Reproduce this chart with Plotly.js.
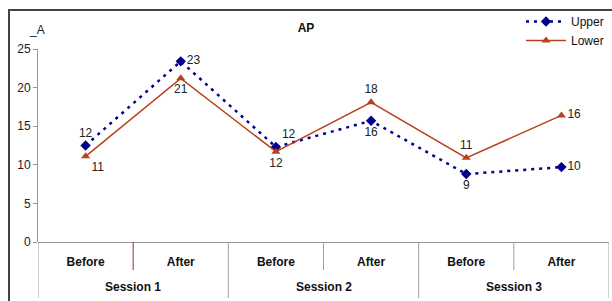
<!DOCTYPE html>
<html><head><meta charset="utf-8">
<script src="https://cdn.plot.ly/plotly-3.0.1.min.js"></script>
<style>html,body{margin:0;padding:0;background:#fff}</style>
</head><body><div id="chart" style="width:612px;height:301px"></div>
<script>
const sessions = ["Session 1","Session 1","Session 2","Session 2","Session 3","Session 3"];
const phases = ["Before","After","Before","After","Before","After"];
const upper = [12.5, 23.4, 12.3, 15.7, 8.8, 9.7];
const lower = [11.1, 21.2, 11.7, 18.1, 10.9, 16.4];
const upperLabels = ["12","23","12","16","9","10"];
const lowerLabels = ["11","21","12","18","11","16"];
const upperPos = ["top center","middle right","top right","bottom center","bottom center","middle right"];
const lowerPos = ["bottom right","bottom center","bottom center","top center","top center","middle right"];

const idx = phases.map((_, i) => i);
const labelFont = {family:"Liberation Sans, Arial", size:12, color:"#222"};
const traces = [
  {x:idx, y:upper, name:"Upper", type:"scatter", mode:"lines+markers+text",
   text:upperLabels, textposition:upperPos, textfont:labelFont,
   line:{color:"#00008B", width:2.5, dash:"3px,5px"},
   marker:{symbol:"diamond", size:8, color:"#00008B"}, cliponaxis:false},
  {x:idx, y:lower, name:"Lower", type:"scatter", mode:"lines+markers+text",
   text:lowerLabels, textposition:lowerPos, textfont:labelFont,
   line:{color:"#B8401C", width:1.5},
   marker:{symbol:"triangle-up", size:8, color:"#B8401C"}, cliponaxis:false}
];
const H = 193;
// dividers between categories
const shapes = [];
for (let i = 0; i <= idx.length; i++) {
  const isGroup = i === 0 || i === idx.length || sessions[i] !== sessions[i-1];
  shapes.push({type:"line", xref:"x", yref:"paper", x0:i-0.5, x1:i-0.5, y0:0,
    y1: isGroup ? -56/H : -28/H, line:{color: i===1 ? "#8B3A2A" : "#A0A0A0", width:1}});
}
shapes.push({type:"rect", xref:"paper", yref:"paper", x0:-29/571, x1:1.1, y0:-1, y1:1+39/H,
  line:{color:"#444", width:2}, layer:"below"});

// session group labels
const groups = [...new Set(sessions)];
const annotations = groups.map(g => {
  const ids = idx.filter(i => sessions[i] === g);
  return {text:"<b>"+g+"</b>", xref:"x", yref:"paper", x:(ids[0]+ids[ids.length-1])/2,
    y:-45/H, xanchor:"center", yanchor:"middle", showarrow:false,
    font:{family:"Liberation Sans, Arial", size:12, color:"#111"}};
});
annotations.push({text:"_A", xref:"paper", yref:"paper", x:-1/571, y:1+19/H, xanchor:"center",
  yanchor:"middle", showarrow:false, font:{size:12, color:"#222"}});

const layout = {
  width:612, height:301,
  margin:{l:38, r:3, t:49, b:59},
  paper_bgcolor:"#fff", plot_bgcolor:"#fff",
  font:{family:"Liberation Sans, Arial", size:12, color:"#222"},
  title:{text:"<b>AP</b>", xref:"container", x:0.5, y:1-28/301, yanchor:"middle",
         font:{family:"Liberation Sans, Arial", size:12, color:"#111"}},
  showlegend:true,
  legend:{x:1, xanchor:"right", y:1+42/H, yanchor:"top", bgcolor:"rgba(0,0,0,0)",
          font:{size:12, color:"#111"}, tracegroupgap:0, itemwidth:40},
  xaxis:{range:[-0.5, idx.length-0.5], tickvals:idx, ticktext:phases.map(p => "<b>"+p+"</b>"),
         showgrid:false, zeroline:false, showline:false,
         ticks:"outside", ticklen:9, tickcolor:"rgba(0,0,0,0)",
         tickfont:{family:"Liberation Sans, Arial", size:12, color:"#111"}},
  yaxis:{range:[0,25], dtick:5, showgrid:false, zeroline:true, zerolinecolor:"#999", zerolinewidth:1,
         showline:true, linecolor:"#999", linewidth:1, ticks:"outside", ticklen:4, tickcolor:"#999",
         tickfont:{size:12, color:"#222"}},
  shapes: shapes,
  annotations: annotations
};
Plotly.newPlot("chart", traces, layout, {displayModeBar:false, staticPlot:true});
</script></body></html>
